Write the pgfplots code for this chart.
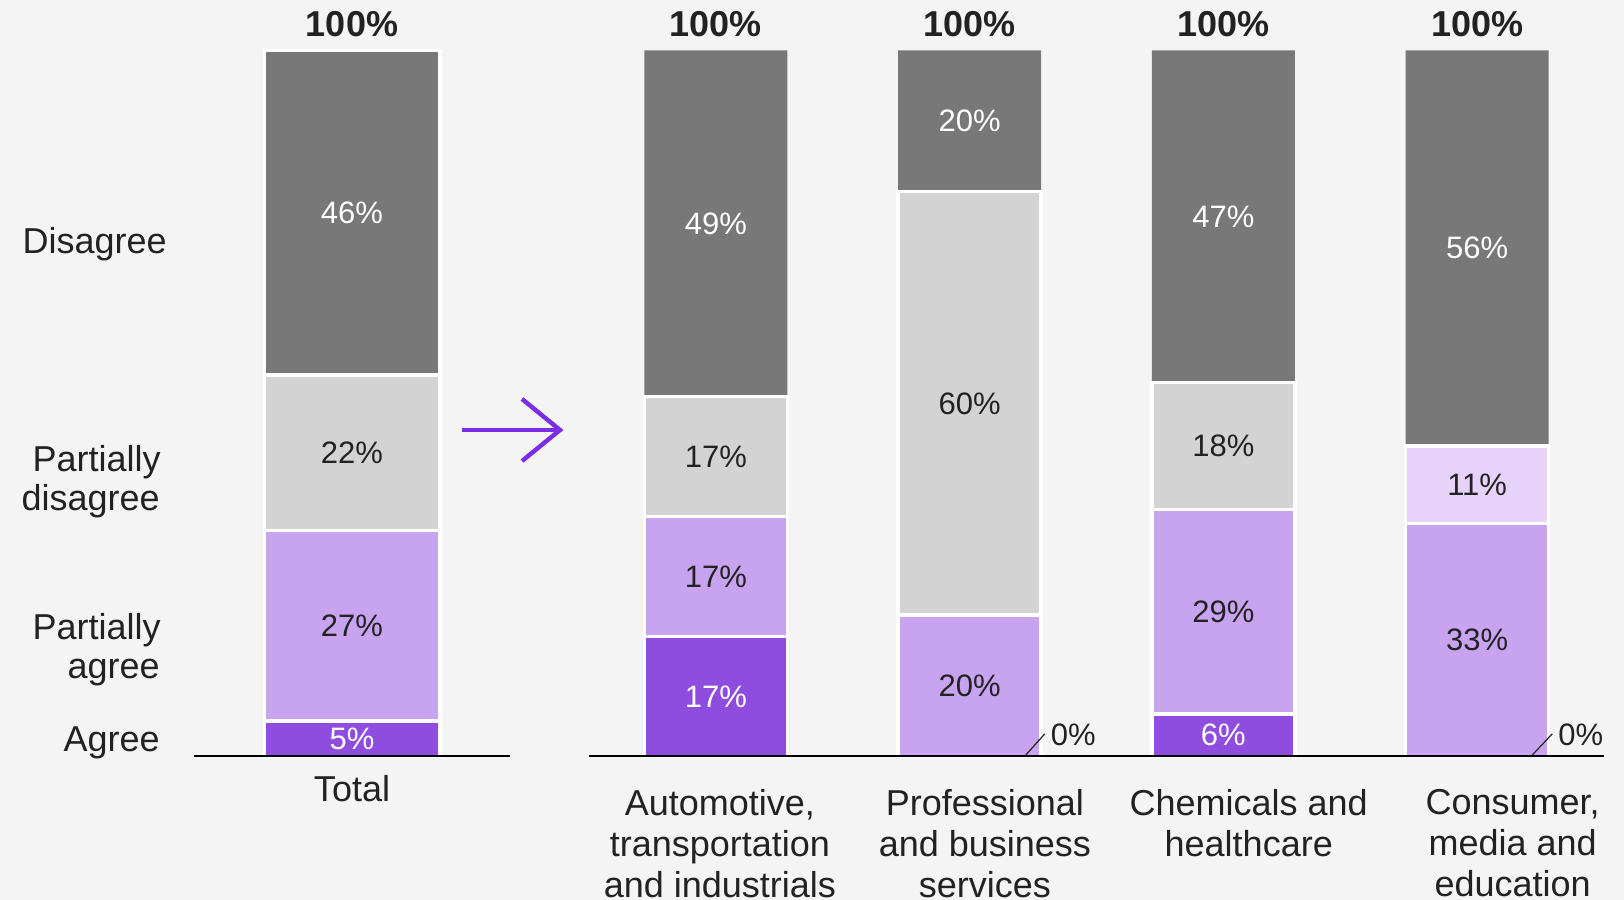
\documentclass[border=0pt]{standalone}
\usepackage{pgfplots}
\pgfplotsset{compat=1.18}
\usepackage{fontspec}
\setmainfont{Liberation Sans}
\definecolor{bg}{HTML}{F4F4F4}
\definecolor{cD}{HTML}{787878}
\definecolor{cPD}{HTML}{D3D3D3}
\definecolor{cPA}{HTML}{C8A4F0}
\definecolor{cA}{HTML}{8F4DE0}
\definecolor{cL}{HTML}{E7D3FA}
\definecolor{txt}{HTML}{222222}
\definecolor{arr}{HTML}{7B2CE6}
\newcommand\vfont{\fontsize{15.5}{18}\selectfont}
\newcommand\lfont{\fontsize{18}{20.5}\selectfont}
\newcommand\tfont{\fontsize{18}{20}\selectfont\bfseries}

\tikzset{hundred/.style={anchor=south, inner sep=0pt, yshift=6.75pt, font=\tfont, text=txt}}
\pgfplotsset{
  base/.style={
    ybar stacked, scale only axis, height=353pt, ymin=0, ymax=100,
    hide y axis, axis x line*=bottom, axis line style={black, line width=1pt, -},
    xtick style={draw=none}, clip=false, axis on top,
    /pgf/number format/assume math mode=true,
    visualization depends on=rawy \as \rawy,
    xticklabel style={font=\lfont, text=txt, align=center, anchor=north, inner sep=0pt},
  },
  seg/.style={nodes near coords={\ifdim\rawy pt>0.1pt\pgfmathprintnumber{\rawy}\%\fi},
    nodes near coords align={center},
    every node near coord/.style={font=\vfont, inner sep=0pt, text=#1, anchor=center}},
  wb/.style={draw=white, line width=1.8pt},
}

\begin{document}
\begin{tikzpicture}
\path[fill=bg, use as bounding box] (0,0) rectangle (812pt,450pt);

% Total
\begin{axis}[base, width=158pt, at={(97pt,71.75pt)}, anchor=south west,
  xmin=-0.5, xmax=0.5, bar width=0.555,
  xtick={0}, xticklabels={Total}, xticklabel style={yshift=-9.25pt}]
\addplot[fill=cA, wb, seg=white] coordinates {(0,5)};
\addplot[fill=cPA, wb, seg=txt] coordinates {(0,27)};
\addplot[fill=cPD, wb, seg=txt] coordinates {(0,22)};
\addplot[fill=cD, wb, seg=white] coordinates {(0,46)};
\node[hundred] at (axis cs:0,100) {100\%};
\end{axis}

% Industries
\begin{axis}[base, width=507.5pt, at={(294.5pt,71.75pt)}, anchor=south west,
  xmin=-0.5, xmax=3.5, bar width=0.5637,
  xtick={0.016,1.06,2.1,3.14},
  xticklabels={{Automotive,\\transportation\\and industrials},{Professional\\and business\\services},{Chemicals and\\healthcare},{Consumer,\\media and\\education}},
  xticklabel style={yshift=-16.25pt}]
\addplot[fill=cA, wb, seg=white] coordinates {(0,17) (1,0) (2,6) (3,0)};
\addplot[fill=cPA, wb, seg=txt] coordinates {(0,17) (1,20) (2,29) (3,33)};
\addplot[fill=cPD, wb, seg=txt] coordinates {(0,17) (1,60) (2,18) (3,0)};
\addplot[fill=cL, wb, seg=txt] coordinates {(0,0) (1,0) (2,0) (3,11)};
\addplot[fill=cD, draw=none, seg=white] coordinates {(0,49) (1,20) (2,47) (3,56)};
\node[hundred] at (axis cs:0,100) {100\%};
\node[hundred] at (axis cs:1,100) {100\%};
\node[hundred] at (axis cs:2,100) {100\%};
\node[hundred] at (axis cs:3,100) {100\%};
\coordinate (a1) at (axis cs:1.221,0.2);
\coordinate (b1) at (axis cs:1.296,3.2);
\coordinate (c1) at (axis cs:1.319,3.05);
\coordinate (a2) at (axis cs:3.217,0.2);
\coordinate (b2) at (axis cs:3.296,3.2);
\coordinate (c2) at (axis cs:3.319,3.05);
\end{axis}
\draw[txt, line width=0.6pt] (a1) -- (b1);
\node[anchor=west, inner sep=0pt, font=\vfont, text=txt] at (c1) {0\%};
\draw[txt, line width=0.6pt] (a2) -- (b2);
\node[anchor=west, inner sep=0pt, font=\vfont, text=txt] at (c2) {0\%};

% row labels
\begin{scope}[every node/.style={anchor=base east, inner sep=0pt, font=\lfont, text=txt}]
\node at (83.5pt,323pt) {Disagree};
\node at (80.5pt,214pt) {Partially};
\node at (80pt,194.5pt) {disagree};
\node at (80.5pt,130pt) {Partially};
\node at (80pt,110.5pt) {agree};
\node at (80pt,74pt) {Agree};
\end{scope}

% arrow
\draw[arr, line width=2.2pt] (231pt,235pt) -- (279pt,235pt);
\draw[arr, line width=2.2pt, line join=miter] (261pt,250.5pt) -- (280pt,235pt) -- (261pt,219.5pt);
\end{tikzpicture}
\end{document}
